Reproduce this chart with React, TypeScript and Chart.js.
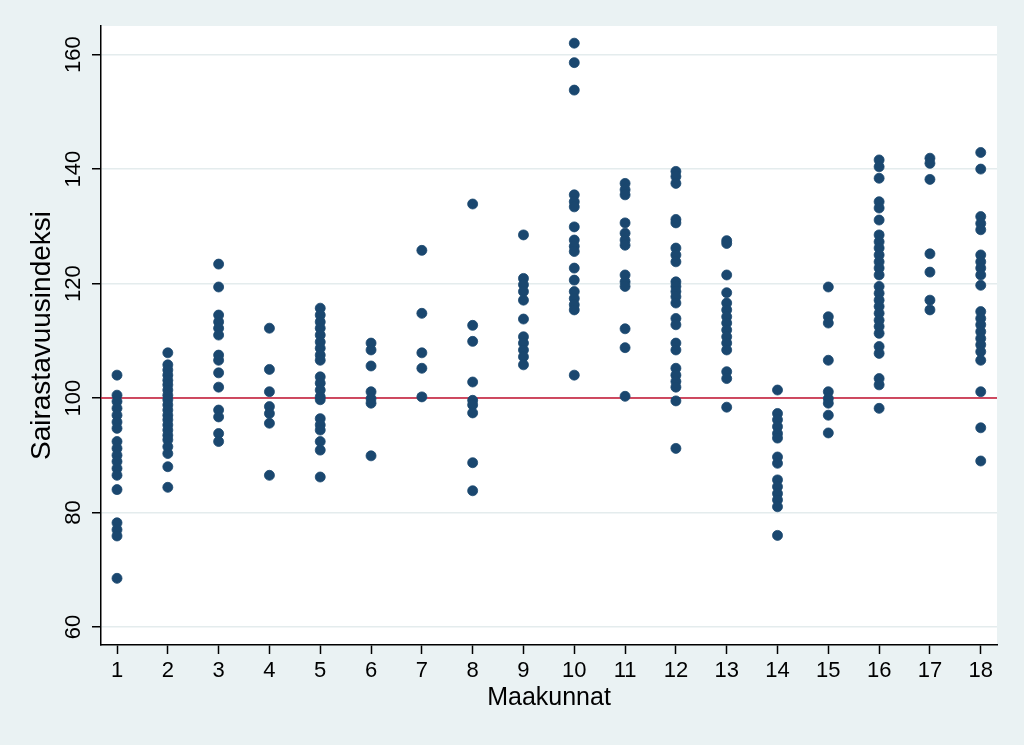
import { useEffect, useRef } from "react";
import { Chart, registerables } from "chart.js";

Chart.register(...registerables);

// Categories (x axis): Maakunnat 1..18
const maakunnat = [1, 2, 3, 4, 5, 6, 7, 8, 9, 10, 11, 12, 13, 14, 15, 16, 17, 18];

// Y tick labels
const yTicks = [60, 80, 100, 120, 140, 160];

// Reference line
const viiteTaso = 100;

// Axis ranges
const xMin = 0.685;
const xMax = 18.32;
const yMin = 56.85;
const yMax = 165;

// Series values per maakunta
const mk1 = [104.0, 100.5, 99.4, 98.2, 97.0, 95.8, 94.7, 92.4, 91.2, 90.0, 88.9, 87.7, 86.5, 84.0, 78.2, 77.0, 75.9, 68.5];
const mk2 = [107.9, 105.8, 104.9, 104.0, 103.1, 102.3, 101.4, 100.5, 99.7, 98.8, 97.9, 97.0, 96.2, 95.3, 94.4, 93.5, 92.7, 91.5, 90.3, 88.0, 84.4];
const mk3 = [123.4, 119.4, 114.5, 113.3, 112.2, 111.0, 107.5, 106.6, 104.4, 101.9, 97.9, 96.7, 93.8, 92.4];
const mk4 = [112.2, 105.0, 101.1, 98.5, 97.3, 95.6, 86.5];
const mk5 = [115.7, 114.5, 113.3, 112.2, 111.0, 109.8, 108.7, 107.5, 106.6, 103.7, 102.6, 101.4, 100.2, 99.7, 96.4, 95.3, 94.4, 92.4, 90.9, 86.2];
const mk6 = [109.6, 108.4, 105.6, 101.1, 99.9, 99.1, 89.9];
const mk7 = [125.8, 114.8, 107.9, 105.2, 100.2];
const mk8 = [133.9, 112.7, 109.9, 102.8, 99.6, 98.8, 97.4, 88.7, 83.8];
const mk9 = [128.5, 120.9, 119.8, 118.6, 117.1, 113.8, 110.7, 109.6, 108.4, 107.2, 105.8];
const mk10 = [162.0, 158.6, 153.8, 135.5, 134.3, 133.4, 129.9, 127.6, 126.5, 125.6, 122.7, 120.6, 118.6, 117.4, 116.3, 115.4, 104.0];
const mk11 = [137.5, 136.4, 135.5, 130.6, 128.8, 127.6, 126.7, 121.5, 120.3, 119.5, 112.1, 108.8, 100.3];
const mk12 = [139.6, 138.7, 137.5, 131.2, 130.6, 126.2, 125.0, 123.8, 120.3, 119.5, 118.6, 117.7, 116.6, 113.9, 112.8, 109.6, 108.4, 105.2, 104.0, 102.9, 101.9, 99.5, 91.2];
const mk13 = [127.5, 127.0, 121.5, 118.4, 116.6, 115.4, 114.2, 113.1, 111.9, 110.7, 109.6, 108.4, 104.6, 103.4, 98.4];
const mk14 = [101.4, 97.3, 96.2, 95.0, 93.8, 93.0, 89.7, 88.6, 85.7, 84.5, 83.3, 82.2, 81.0, 76.0];
const mk15 = [119.4, 114.2, 113.1, 106.6, 101.1, 99.9, 99.1, 97.0, 93.9];
const mk16 = [141.6, 140.4, 138.4, 134.3, 133.2, 131.1, 128.5, 127.3, 126.2, 125.0, 123.8, 122.7, 121.5, 119.5, 118.3, 117.1, 116.0, 114.8, 113.6, 112.5, 111.3, 109.0, 107.8, 103.4, 102.3, 98.2];
const mk17 = [141.9, 141.0, 138.2, 125.2, 122.0, 117.1, 115.4];
const mk18 = [142.9, 140.0, 131.7, 130.5, 129.4, 125.0, 123.8, 122.7, 121.5, 119.7, 115.1, 113.9, 112.8, 111.6, 110.4, 109.3, 108.1, 106.6, 101.1, 94.8, 89.0];

const indeksi = [mk1, mk2, mk3, mk4, mk5, mk6, mk7, mk8, mk9, mk10, mk11, mk12, mk13, mk14, mk15, mk16, mk17, mk18];

const FONT = "'Liberation Sans', Arial, sans-serif";
const BG = "#eaf2f3";
const NAVY = "#1a476f";

export default function App() {
  const ref = useRef<HTMLCanvasElement>(null);

  useEffect(() => {
    document.body.style.margin = "0";
    const canvas = ref.current;
    if (!canvas) return;

    const points = indeksi.flatMap((vals, i) => vals.map((v) => ({ x: maakunnat[i], y: v })));

    const bgPlugin = {
      id: "bgPlugin",
      beforeDraw(chart: any) {
        const { ctx, chartArea } = chart;
        ctx.save();
        ctx.fillStyle = BG;
        ctx.fillRect(0, 0, chart.width, chart.height);
        ctx.fillStyle = "#ffffff";
        ctx.fillRect(chartArea.left, chartArea.top, chartArea.right - chartArea.left, chartArea.bottom - chartArea.top);
        ctx.restore();
      },
    };

    const yLabelPlugin = {
      id: "yLabelPlugin",
      afterDraw(chart: any) {
        const { ctx } = chart;
        const ys = chart.scales.y;
        ctx.save();
        ctx.fillStyle = "#000";
        ctx.font = `22px ${FONT}`;
        ctx.textAlign = "center";
        ctx.textBaseline = "alphabetic";
        for (const t of yTicks) {
          const py = ys.getPixelForValue(t);
          ctx.save();
          ctx.translate(ys.right - 21, py);
          ctx.rotate(-Math.PI / 2);
          ctx.fillText(String(t), 0, 0);
          ctx.restore();
        }
        ctx.restore();
      },
    };

    const chart = new Chart(canvas, {
      type: "scatter",
      data: {
        datasets: [
          {
            type: "line",
            data: [
              { x: xMin, y: viiteTaso },
              { x: xMax, y: viiteTaso },
            ],
            borderColor: "#c4122f",
            borderWidth: 1.5,
            pointRadius: 0,
            fill: false,
            order: 2,
          } as any,
          {
            type: "scatter",
            data: points,
            backgroundColor: NAVY,
            borderColor: NAVY,
            borderWidth: 0.8,
            pointRadius: 5,
            order: 1,
          },
        ],
      },
      options: {
        animation: false,
        responsive: false,
        devicePixelRatio: 1,
        layout: { padding: { top: 26, right: 27, left: 0, bottom: 0 } },
        plugins: {
          legend: { display: false },
          tooltip: { enabled: false },
        },
        scales: {
          x: {
            type: "linear",
            min: xMin,
            max: xMax,
            afterBuildTicks: (s: any) => {
              s.ticks = maakunnat.map((v) => ({ value: v }));
            },
            afterFit: (s: any) => {
              s.height = 100;
            },
            grid: {
              drawOnChartArea: false,
              drawTicks: true,
              tickLength: 9,
              tickColor: "#000",
              tickWidth: 1.5,
            },
            border: { color: "#000", width: 1.5 },
            ticks: {
              font: { family: FONT, size: 22 },
              color: "#000",
              padding: 4,
              autoSkip: false,
              maxRotation: 0,
              minRotation: 0,
              callback: (v: any) => String(v),
            },
            title: {
              display: true,
              text: "Maakunnat",
              font: { family: FONT, size: 25 },
              color: "#000",
              padding: { top: 0, bottom: 32 },
            },
          },
          y: {
            type: "linear",
            min: yMin,
            max: yMax,
            afterBuildTicks: (s: any) => {
              s.ticks = yTicks.map((v) => ({ value: v }));
            },
            afterFit: (s: any) => {
              s.width = 101;
            },
            grid: {
              color: "#e4eced",
              lineWidth: 1.5,
              drawTicks: true,
              tickLength: 9,
              tickColor: "#000",
              tickWidth: 1.5,
            },
            border: { color: "#000", width: 1.5 },
            ticks: { display: false },
            title: {
              display: true,
              text: "Sairastavuusindeksi",
              font: { family: FONT, size: 28 },
              color: "#000",
              padding: { top: 25, bottom: 0 },
            },
          },
        },
      },
      plugins: [bgPlugin, yLabelPlugin],
    });

    return () => chart.destroy();
  }, []);

  return (
    <div style={{ position: "fixed", left: 0, top: 0, width: 1024, height: 745, background: BG }}>
      <canvas ref={ref} width={1024} height={745} style={{ display: "block", width: 1024, height: 745 }} />
    </div>
  );
}
